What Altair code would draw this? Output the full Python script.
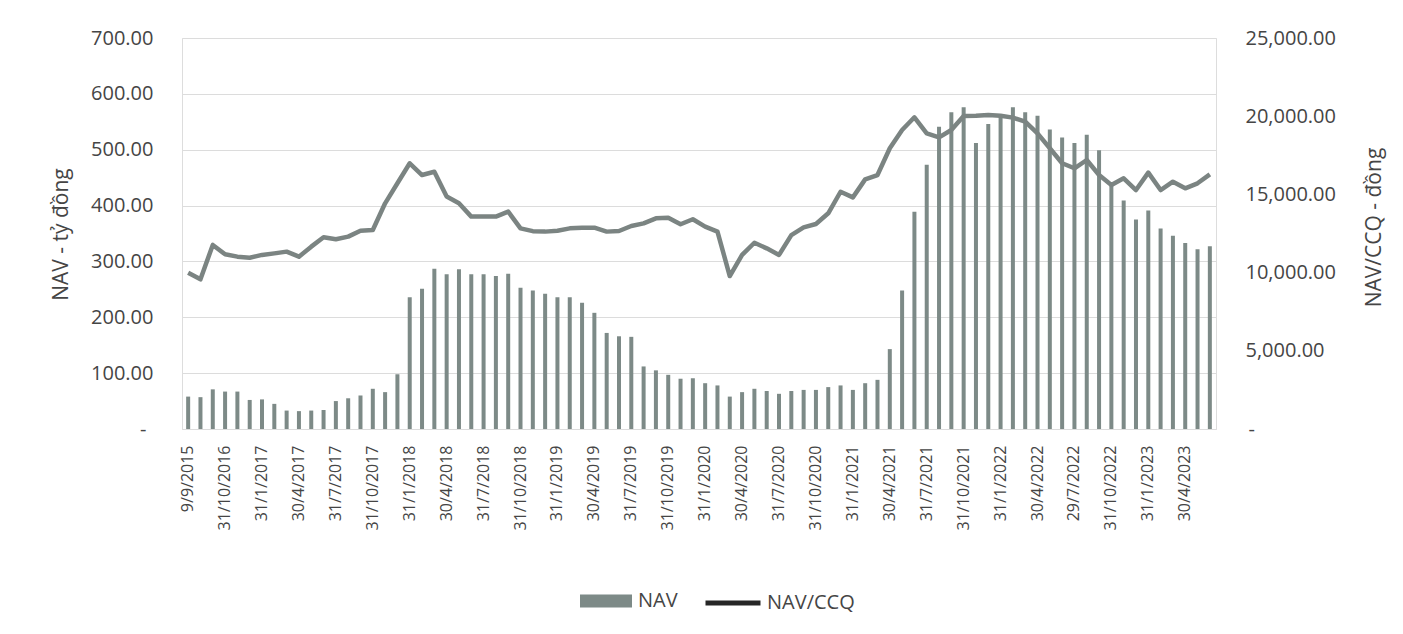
import altair as alt
import pandas as pd

dates = [
    "9/9/2015", "31/8/2016", "30/9/2016",
    "31/10/2016", "30/11/2016", "31/12/2016",
    "31/1/2017", "28/2/2017", "31/3/2017", "30/4/2017", "31/5/2017", "30/6/2017",
    "31/7/2017", "31/8/2017", "30/9/2017", "31/10/2017", "30/11/2017", "31/12/2017",
    "31/1/2018", "28/2/2018", "31/3/2018", "30/4/2018", "31/5/2018", "30/6/2018",
    "31/7/2018", "31/8/2018", "30/9/2018", "31/10/2018", "30/11/2018", "31/12/2018",
    "31/1/2019", "28/2/2019", "31/3/2019", "30/4/2019", "31/5/2019", "30/6/2019",
    "31/7/2019", "31/8/2019", "30/9/2019", "31/10/2019", "30/11/2019", "31/12/2019",
    "31/1/2020", "29/2/2020", "31/3/2020", "30/4/2020", "31/5/2020", "30/6/2020",
    "31/7/2020", "31/8/2020", "30/9/2020", "31/10/2020", "30/11/2020", "31/12/2020",
    "31/1/2021", "28/2/2021", "31/3/2021", "30/4/2021", "31/5/2021", "30/6/2021",
    "31/7/2021", "31/8/2021", "30/9/2021", "31/10/2021", "30/11/2021", "31/12/2021",
    "31/1/2022", "28/2/2022", "31/3/2022", "30/4/2022", "31/5/2022", "30/6/2022",
    "29/7/2022", "31/8/2022", "30/9/2022", "31/10/2022", "30/11/2022", "31/12/2022",
    "31/1/2023", "28/2/2023", "31/3/2023", "30/4/2023", "31/5/2023", "30/6/2023",
]

tick_labels = [
    "9/9/2015", "31/10/2016", "31/1/2017", "30/4/2017", "31/7/2017", "31/10/2017",
    "31/1/2018", "30/4/2018", "31/7/2018", "31/10/2018", "31/1/2019", "30/4/2019",
    "31/7/2019", "31/10/2019", "31/1/2020", "30/4/2020", "31/7/2020", "31/10/2020",
    "31/1/2021", "30/4/2021", "31/7/2021", "31/10/2021", "31/1/2022", "30/4/2022",
    "29/7/2022", "31/10/2022", "31/1/2023", "30/4/2023",
]

nav = [
    58, 57, 71, 67, 67, 52, 53, 45, 33, 32, 33, 34, 50, 55, 60, 72, 66, 98,
    236, 251, 287, 277, 286, 277, 277, 274, 278, 253, 248, 242, 236, 236,
    226, 208, 172, 166, 165, 112, 105, 97, 90, 91, 82, 78, 58, 66, 72, 68,
    63, 68, 70, 70, 75, 78, 70, 82, 88, 143, 248, 389, 473, 541, 567, 576,
    512, 546, 561, 576, 567, 561, 536, 522, 512, 527, 499, 442, 409, 375,
    391, 359, 346, 333, 322, 327,
]

nav_ccq = [
    9990, 9570, 11770, 11170, 11020, 10950, 11130, 11230, 11340, 11020, 11660,
    12260, 12130, 12300, 12680, 12720, 14430, 15710, 16990, 16240, 16450,
    14860, 14430, 13580, 13580, 13580, 13900, 12830, 12650, 12620, 12680,
    12830, 12870, 12870, 12620, 12660, 12980, 13150, 13470, 13510, 13090,
    13410, 12940, 12620, 9780, 11130, 11910, 11550, 11130, 12400, 12890,
    13110, 13790, 15170, 14810, 15960, 16240, 17950, 19120, 19930, 18900,
    18650, 19120, 20010, 20030, 20080, 20030, 19910, 19650, 18900, 17950,
    16990, 16670, 17200, 16240, 15600, 16030, 15280, 16390, 15280, 15810,
    15390, 15710, 16280,
]

df = pd.DataFrame({"date": dates, "nav": nav, "navccq": nav_ccq})

FONT = "Open Sans"
TEXT = "#454545"
BAR_COLOR = "#7d8a87"
LINE_COLOR = "#7b8482"
GRID = "#dcdcdc"

x_enc = alt.X(
    "date:N",
    sort=dates,
    scale=alt.Scale(paddingInner=0.0, paddingOuter=0.0),
    axis=alt.Axis(
        values=tick_labels,
        title=None,
        labelAngle=270,
        labelAlign="right",
        labelBaseline="middle",
        labelFont=FONT,
        labelFontSize=16,
        labelColor=TEXT,
        labelPadding=16,
        ticks=False,
        domain=True,
        domainColor=GRID,
        grid=False,
        labelOverlap=False,
    ),
)

bars = (
    alt.Chart()
    .transform_calculate(s="'NAV'")
    .mark_bar(size=4)
    .encode(
        x=x_enc,
        y=alt.Y(
            "nav:Q",
            scale=alt.Scale(domain=[0, 700], nice=False),
            axis=alt.Axis(
                orient="left",
                values=[0, 100, 200, 300, 400, 500, 600, 700],
                labelExpr="datum.value == 0 ? '-' : format(datum.value, '.2f')",
                title="NAV - tỷ đồng",
                titleFont=FONT,
                titleFontSize=21,
                titleFontWeight="normal",
                titleColor=TEXT,
                titleAngle=270,
                titleX=-121,
                titleY=196,
                titleAlign="center",
                titleBaseline="middle",
                labelFont=FONT,
                labelFontSize=20,
                labelColor=TEXT,
                labelPadding={"condition": {"test": "datum.value == 0", "value": 36}, "value": 29},
                ticks=False,
                domain=False,
                grid=True,
                gridColor=GRID,
                gridWidth=1,
            ),
        ),
        fill=alt.Fill(
            "s:N",
            scale=alt.Scale(domain=["NAV"], range=[BAR_COLOR]),
            legend=alt.Legend(
                title=None,
                orient="none",
                legendX=398,
                legendY=537,
                symbolType="M-1,-0.25H1V0.25H-1Z",
                symbolSize=2704,
                symbolStrokeWidth=0,
                labelFont=FONT,
                labelFontSize=20,
                labelColor=TEXT,
                labelOffset=6,
            ),
        ),
    )
)

y_right = alt.Y(
    "navccq:Q",
    scale=alt.Scale(domain=[0, 25000], nice=False),
    axis=alt.Axis(
        orient="right",
        values=[0, 5000, 10000, 15000, 20000, 25000],
        labelExpr="datum.value == 0 ? '-' : format(datum.value, ',.2f')",
        title="NAV/CCQ - đồng",
        titleFont=FONT,
        titleFontSize=21,
        titleFontWeight="normal",
        titleColor=TEXT,
        titleAngle=270,
        titleX=158,
        titleY=189,
        titleAlign="center",
        titleBaseline="middle",
        labelFont=FONT,
        labelFontSize=20,
        labelColor=TEXT,
        labelPadding={"condition": {"test": "datum.value == 0", "value": 32}, "value": 29},
        ticks=False,
        domain=False,
        grid=False,
    ),
)

line = (
    alt.Chart()
    .mark_line(color=LINE_COLOR, strokeWidth=4.5, strokeJoin="round")
    .encode(x=x_enc, y=y_right)
)

line_legend = (
    alt.Chart()
    .transform_filter("false")
    .transform_calculate(s2="'NAV/CCQ'")
    .mark_line()
    .encode(
        x=x_enc,
        y=y_right,
        stroke=alt.Stroke(
            "s2:N",
            scale=alt.Scale(domain=["NAV/CCQ"], range=["#262626"]),
            legend=alt.Legend(
                title=None,
                orient="none",
                legendX=521,
                legendY=535,
                symbolType="stroke",
                symbolSize=3025,
                symbolStrokeWidth=5,
                labelFont=FONT,
                labelFontSize=20,
                labelColor=TEXT,
                labelOffset=4,
            ),
        ),
    )
)

chart = (
    alt.layer(bars, alt.layer(line, line_legend), data=df)
    .resolve_scale(y="independent", fill="independent", stroke="independent")
    .properties(
        width=1034,
        height=391,
        autosize=alt.AutoSizeParams(type="none"),
        padding={"left": 174, "top": 30, "right": 178, "bottom": 190},
    )
    .configure_view(stroke=None)
    .configure(background="white")
)

chart.save("out.html", embed_options={"renderer": "svg", "actions": False})
